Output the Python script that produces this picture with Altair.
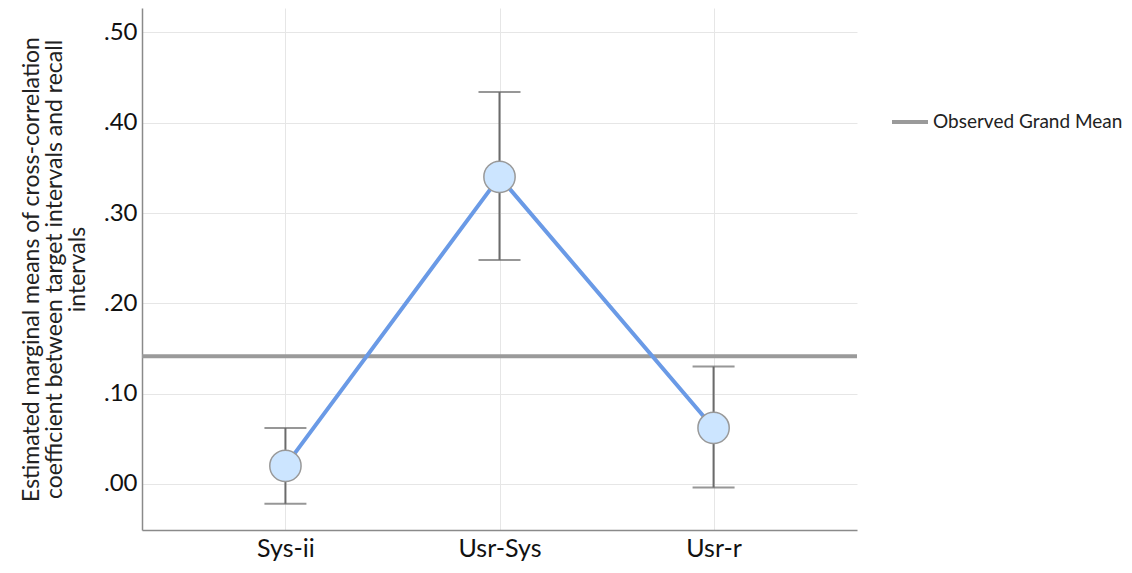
import altair as alt
import pandas as pd

categories = ["Sys-ii", "Usr-Sys", "Usr-r"]
means = [0.020, 0.340, 0.062]
lower = [-0.022, 0.248, -0.004]
upper = [0.062, 0.434, 0.130]
grand_mean = [0.1414]
grand_label = ["Observed Grand Mean"]
y_ticks = [0.0, 0.1, 0.2, 0.3, 0.4, 0.5]

df = pd.DataFrame({"cat": categories, "mean": means, "lo": lower, "hi": upper})
gm = pd.DataFrame({"gm": grand_mean, "label": grand_label})

FONT = "Lato"

x = alt.X("cat:N", sort=categories,
          scale=alt.Scale(type="point", padding=0.67),
          axis=alt.Axis(title=None, labelFontSize=25, labelFont=FONT, labelColor="#111",
                        labelPadding=6, ticks=False, grid=True, gridColor="#e6e6e6",
                        domainColor="#8a8a8a", domainWidth=1.5, labelAngle=0))
yscale = alt.Scale(domain=[-0.051, 0.527], nice=False, zero=False)
y_axis = alt.Axis(values=y_ticks, format=".2f", labelExpr="replace(datum.label, /^0/, '')",
                  labelFontSize=24, labelFont=FONT, labelColor="#111", labelPadding=5,
                  ticks=False, grid=True, gridColor="#e6e6e6", domainColor="#8a8a8a",
                  domainWidth=1.5,
                  title=["Estimated marginal means of cross-correlation",
                         "coefficient between target intervals and recall",
                         "intervals"],
                  titleFont=FONT, titleFontSize=23, titleFontWeight="normal",
                  titleColor="#222", titleAngle=-90, titleAlign="center",
                  titleBaseline="middle", titleLineHeight=23, titleX=-111, titleY=261)

base = alt.Chart(df)

gm_rule = alt.Chart(gm).mark_rule(strokeWidth=4).encode(
    y=alt.Y("gm:Q", scale=yscale, axis=y_axis),
    color=alt.Color("label:N", scale=alt.Scale(range=["#9a9a9a"]),
                    legend=alt.Legend(title=None, orient="none", legendX=748, legendY=94,
                                      symbolType="stroke", symbolSize=1296,
                                      symbolStrokeWidth=4, labelFont=FONT,
                                      labelFontSize=19, labelColor="#222",
                                      labelOffset=3, labelLimit=400)),
)

err = base.mark_rule(color="#6b6b6b", strokeWidth=2).encode(
    x=x, y=alt.Y("lo:Q", scale=yscale), y2="hi:Q")
cap_lo = base.mark_tick(color="#6b6b6b", thickness=2, size=42, orient="horizontal").encode(
    x=x, y=alt.Y("lo:Q", scale=yscale))
cap_hi = base.mark_tick(color="#6b6b6b", thickness=2, size=42, orient="horizontal").encode(
    x=x, y=alt.Y("hi:Q", scale=yscale))
line = base.mark_line(color="#6a9ae6", strokeWidth=4).encode(
    x=x, y=alt.Y("mean:Q", scale=yscale))
pts = base.mark_point(shape="circle", filled=True, size=980, fill="#cce5ff", opacity=1,
                      stroke="#999999", strokeWidth=1.5).encode(
    x=x, y=alt.Y("mean:Q", scale=yscale))

chart = alt.layer(gm_rule, err, cap_lo, cap_hi, line, pts).properties(
    width=715, height=522,
    autosize=alt.AutoSizeParams(type="none"),
    padding={"left": 134, "top": 0, "right": 267, "bottom": 35},
).configure_view(stroke=None).configure_axis(titlePadding=0)

chart.save("out.html", embed_options={"renderer": "svg", "actions": False})
